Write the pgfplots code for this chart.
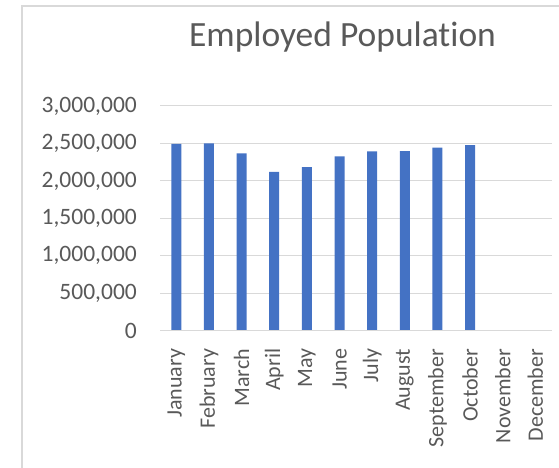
\documentclass[border=0pt]{standalone}
\usepackage{fontspec}
\setmainfont{Carlito}[Ligatures=NoCommon]
\usepackage{pgfplots}
\pgfplotsset{compat=1.18}
\definecolor{barblue}{HTML}{4472C4}
\definecolor{gridgray}{HTML}{D9D9D9}
\definecolor{txtgray}{HTML}{595959}
\begin{document}
\begin{tikzpicture}[x=1pt,y=1pt]
\path[use as bounding box] (0,0) rectangle (559,468);
\draw[gridgray, line width=1.5pt] (22,-2) -- (22,462) -- (565,462);
\node[anchor=base, text=txtgray, font=\fontsize{35.5}{40}\selectfont] at (342.5,421.5) {Employed Population};
\begin{axis}[
  at={(160pt,137.3pt)}, anchor=south west,
  scale only axis, width=391.7pt, height=224.7pt,
  xmin=-0.5, xmax=11.5, ymin=0, ymax=3000000,
  axis line style={draw=none},
  axis x line*=bottom,
  ytick={0,500000,...,3000000},
  xtick={0,...,11},
  xticklabels={January,February,March,April,May,June,July,August,September,October,November,December},
  major tick length=0pt,
  ymajorgrids, grid style={gridgray, line width=1pt},
  scaled y ticks=false,
  /pgf/number format/.cd, fixed, precision=0, 1000 sep={,}, assume math mode=true,
  /pgfplots/.cd,
  ticklabel style={text=txtgray},
  yticklabel style={inner sep=0pt, anchor=east, font=\fontsize{23.5}{28}\selectfont},
  yticklabel shift=23pt,
  xticklabel style={rotate=90, anchor=east, inner sep=0pt, font=\fontsize{22}{26}\selectfont},
  xticklabel shift=18pt,
  clip=false,
]
\addplot[ybar, bar width=10pt, fill=barblue, draw=none] coordinates {
(0,2493000) (1,2502000) (2,2368000) (3,2119000) (4,2185000) (5,2328000)
(6,2395000) (7,2399000) (8,2443000) (9,2479000)};
\draw[gridgray, line width=1pt] (axis cs:-0.5,0) -- (axis cs:11.5,0);
\end{axis}
\end{tikzpicture}
\end{document}
